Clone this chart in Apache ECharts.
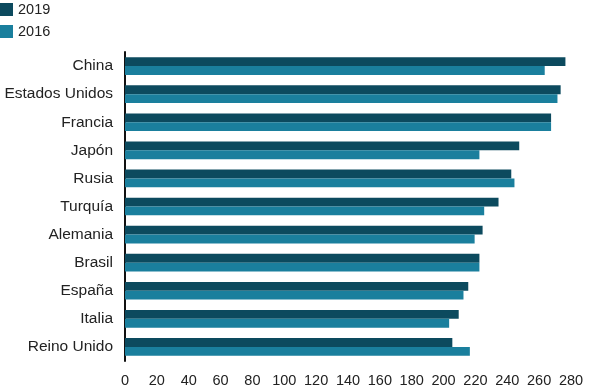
<!DOCTYPE html>
<html>
<head>
<meta charset="utf-8">
<script src="https://cdn.jsdelivr.net/npm/echarts@6/dist/echarts.min.js"></script>
<style>
html,body{margin:0;padding:0;background:#fff;}
#c{width:592px;height:389px;}
</style>
</head>
<body>
<div id="c"></div>
<script>
var categories = ["China","Estados Unidos","Francia","Japón","Rusia","Turquía","Alemania","Brasil","España","Italia","Reino Unido"];
var values2019 = [276.5,273.5,267.5,247.5,242.5,234.5,224.5,222.5,215.5,209.5,205.5];
var values2016 = [263.5,271.5,267.5,222.5,244.5,225.5,219.5,222.5,212.5,203.5,216.5];
var seriesNames = ["2019","2016"];
var xTicks = {min:0, max:280, interval:20};

var chart = echarts.init(document.getElementById('c'), null, {renderer:'canvas'});
var font = 'Liberation Sans, Arial, sans-serif';
chart.setOption({
  animation:false,
  color:['#0c4a5e','#1a7f9d'],
  legend:{
    orient:'vertical', left:0, top:2, padding:0, itemWidth:13, itemHeight:13, itemGap:7,
    icon:'rect',
    textStyle:{fontFamily:font, fontSize:14.5, color:'#222'},
    data:seriesNames
  },
  grid:{left:125, right:21, top:52, bottom:28, containLabel:false},
  xAxis:{
    type:'value', min:xTicks.min, max:xTicks.max, interval:xTicks.interval,
    axisLine:{show:false}, axisTick:{show:false}, splitLine:{show:false},
    axisLabel:{fontFamily:font, fontSize:14.5, color:'#222', margin:12}
  },
  yAxis:{
    type:'category', inverse:true, data:categories,
    axisLine:{show:true, lineStyle:{color:'#111', width:2}},
    axisTick:{show:false},
    axisLabel:{fontFamily:font, fontSize:15.5, color:'#222', margin:12}
  },
  series:[
    {name:seriesNames[0], type:'bar', data:values2019, barGap:'0%', barCategoryGap:'37%'},
    {name:seriesNames[1], type:'bar', data:values2016, barGap:'0%', barCategoryGap:'37%'}
  ]
});
</script>
</body>
</html>
